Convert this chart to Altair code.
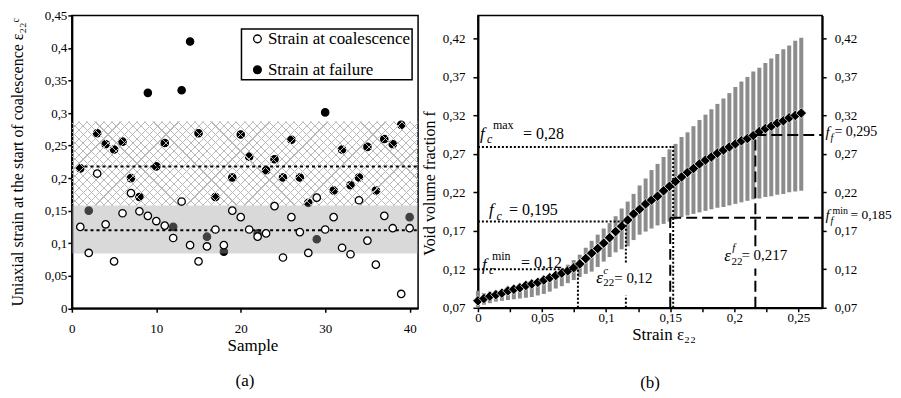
import altair as alt
import pandas as pd

FONT = "Liberation Serif"

# ---------------- panel (a) data ----------------
sample = list(range(1, 41))
strain_coalescence = [0.125, 0.085, 0.207, 0.129, 0.072, 0.146, 0.177, 0.149, 0.142, 0.134,
                      0.127, 0.108, 0.164, 0.097, 0.072, 0.095, 0.121, 0.097, 0.150, 0.140,
                      0.121, 0.110, 0.115, 0.157, 0.078, 0.140, 0.117, 0.085, 0.170, 0.121,
                      0.140, 0.093, 0.083, 0.166, 0.104, 0.067, 0.142, 0.123, 0.022, 0.123]
strain_failure = [0.215, 0.150, 0.269, 0.252, 0.244, 0.256, 0.200, 0.171, 0.331, 0.218,
                  0.254, 0.125, 0.335, 0.410, 0.269, 0.110, 0.171, 0.087, 0.201, 0.267,
                  0.233, 0.115, 0.212, 0.229, 0.201, 0.259, 0.201, 0.162, 0.106, 0.301,
                  0.181, 0.244, 0.189, 0.201, 0.248, 0.181, 0.260, 0.252, 0.282, 0.140]
series_names = ["Strain at coalescence", "Strain at failure"]
hatch_band = [0.158, 0.287]
dotted_band = [0.084, 0.158]
mean_levels = [0.218, 0.120]
mean_x_start = [1.5, 1.5]
mean_x_end = [41, 41]
a_x_ticks = [0, 10, 20, 30, 40]
a_y_ticks = [0, 0.05, 0.1, 0.15, 0.2, 0.25, 0.3, 0.35, 0.4, 0.45]

# ---------------- panel (b) data ----------------
strain_b = [0.0000, 0.0047, 0.0093, 0.0140, 0.0187, 0.0234, 0.0280, 0.0327, 0.0374, 0.0420,
            0.0467, 0.0514, 0.0560, 0.0607, 0.0654, 0.0701, 0.0747, 0.0794, 0.0841, 0.0887,
            0.0934, 0.0981, 0.1027, 0.1074, 0.1121, 0.1168, 0.1214, 0.1261, 0.1308, 0.1354,
            0.1401, 0.1448, 0.1494, 0.1541, 0.1588, 0.1635, 0.1681, 0.1728, 0.1775, 0.1821,
            0.1868, 0.1915, 0.1961, 0.2008, 0.2055, 0.2102, 0.2148, 0.2195, 0.2242, 0.2288,
            0.2335, 0.2382, 0.2428, 0.2475, 0.2522]
f_mean = [0.079, 0.082, 0.085, 0.087, 0.089, 0.092, 0.094, 0.096, 0.099, 0.101,
          0.103, 0.106, 0.109, 0.112, 0.115, 0.118, 0.122, 0.127, 0.134, 0.141,
          0.147, 0.154, 0.161, 0.169, 0.176, 0.184, 0.192, 0.198, 0.205, 0.210,
          0.215, 0.222, 0.228, 0.234, 0.240, 0.246, 0.251, 0.257, 0.262, 0.266,
          0.271, 0.275, 0.279, 0.283, 0.287, 0.290, 0.294, 0.299, 0.303, 0.306,
          0.310, 0.313, 0.317, 0.320, 0.323]
f_high = [0.092, 0.089, 0.091, 0.092, 0.094, 0.096, 0.098, 0.100, 0.102, 0.104,
          0.107, 0.110, 0.113, 0.117, 0.121, 0.126, 0.132, 0.139, 0.148, 0.157,
          0.165, 0.173, 0.180, 0.189, 0.199, 0.208, 0.218, 0.229, 0.238, 0.249,
          0.257, 0.266, 0.276, 0.283, 0.292, 0.298, 0.306, 0.314, 0.321, 0.328,
          0.335, 0.342, 0.349, 0.357, 0.364, 0.370, 0.377, 0.382, 0.388, 0.394,
          0.400, 0.406, 0.411, 0.417, 0.421]
f_low = [0.070, 0.074, 0.076, 0.078, 0.079, 0.080, 0.081, 0.082, 0.083, 0.084,
         0.086, 0.088, 0.091, 0.095, 0.098, 0.102, 0.106, 0.110, 0.114, 0.117,
         0.123, 0.130, 0.136, 0.142, 0.146, 0.150, 0.158, 0.165, 0.169, 0.173,
         0.177, 0.179, 0.182, 0.185, 0.188, 0.190, 0.192, 0.194, 0.196, 0.198,
         0.200, 0.201, 0.203, 0.205, 0.207, 0.209, 0.211, 0.212, 0.214, 0.215,
         0.217, 0.218, 0.220, 0.221, 0.222]
b_x_ticks = [0, 0.025, 0.05, 0.075, 0.1, 0.125, 0.15, 0.175, 0.2, 0.225, 0.25]
b_y_ticks = [0.07, 0.12, 0.17, 0.22, 0.27, 0.32, 0.37, 0.42]

# guide segments (panel b)
dot_x1 = [0, 0, 0, 0.078, 0.1154, 0.1154, 0.1523]
dot_x2 = [0.1523, 0.1154, 0.078, 0.078, 0.1154, 0.1154, 0.1523]
dot_y1 = [0.279, 0.182, 0.120, 0.070, 0.070, 0.1287, 0.070]
dot_y2 = [0.279, 0.182, 0.120, 0.120, 0.086, 0.182, 0.2806]
dash_x1 = [0.150, 0.150, 0.2164, 0.2164, 0.2164]
dash_x2 = [0.150, 0.2685, 0.2164, 0.2164, 0.2685]
dash_y1 = [0.070, 0.187, 0.070, 0.150, 0.2947]
dash_y2 = [0.187, 0.187, 0.121, 0.2947, 0.2947]

# annotation pieces (panel b)
ann_text = ["f", "c", "max", "= 0,28",
            "f", "c", "= 0,195",
            "f", "c", "min", "= 0,12",
            "ε", "22", "c", "= 0,12",
            "ε", "22", "f", "= 0,217",
            "f", "f", "= 0,295",
            "f", "f", "min", "= 0,185"]
ann_x = [0.0016, 0.0070, 0.0117, 0.0352,
         0.0086, 0.0145, 0.0242,
         0.0031, 0.0086, 0.0109, 0.0336,
         0.0922, 0.0977, 0.0977, 0.1063,
         0.1922, 0.1977, 0.1984, 0.2055,
         0.2711, 0.2750, 0.2781,
         0.2711, 0.2750, 0.2766, 0.2906]
ann_y = [0.2892, 0.2841, 0.3019, 0.2892,
         0.1902, 0.1845, 0.1902,
         0.1194, 0.1143, 0.1322, 0.1220,
         0.1028, 0.0977, 0.1143, 0.1028,
         0.1309, 0.1258, 0.1437, 0.1322,
         0.2917, 0.2866, 0.2930,
         0.1845, 0.1794, 0.1922, 0.1858]
ann_size = [17, 12, 12, 16, 17, 12, 16, 17, 12, 12, 16,
            17, 11, 11, 15, 17, 11, 11, 15,
            15, 10, 14, 15, 10, 10, 13.5]
ann_italic = [1, 1, 0, 0, 1, 1, 0, 1, 1, 0, 0,
              1, 0, 1, 0, 1, 0, 1, 0,
              1, 1, 0, 1, 1, 0, 0]

A_W, A_H = 347, 293.5
B_W, B_H = 345, 293

# ================= panel (a) =================
pts = pd.DataFrame({
    "sample": sample + sample,
    "strain": strain_coalescence + strain_failure,
    "series": [series_names[0]] * len(sample) + [series_names[1]] * len(sample),
})
xa_scale = alt.Scale(domain=[0, 41], nice=False, zero=False)
ya_scale = alt.Scale(domain=[0, 0.45], nice=False)
xa_axis = alt.Axis(values=a_x_ticks, title="Sample", tickSize=4, labelPadding=10,
                   titlePadding=2, titleX=181, titleFontSize=17, format="d")
ya_axis = alt.Axis(values=a_y_ticks,
                   labelExpr="replace(format(datum.value, '.2~f'), '.', ',')",
                   title="Uniaxial strain at the start of coalescence  ε₂₂ᶜ",
                   tickSize=4, labelPadding=1, titlePadding=19)
fill_scale = alt.Scale(domain=series_names, range=["white", "black"])
legend = alt.Legend(title=None, orient="none", legendX=170, legendY=13.5,
                    direction="vertical", symbolType="circle", symbolSize=60,
                    symbolStrokeColor="black", symbolStrokeWidth=1.3,
                    labelFont=FONT, labelFontSize=17, labelColor="black",
                    labelOffset=2, rowPadding=13, padding=1.5, symbolOffset=6,
                    strokeColor="black", fillColor="white")

xa = alt.X("sample:Q", scale=xa_scale, axis=xa_axis)
ya = alt.Y("strain:Q", scale=ya_scale, axis=ya_axis)

filled = alt.Chart(pts).transform_filter(
    alt.datum.series == series_names[1]
).mark_circle(size=55, stroke="black", strokeWidth=1.2, opacity=1).encode(
    x=xa, y=ya, fill=alt.Fill("series:N", scale=fill_scale, legend=legend))

opened = alt.Chart(pts).transform_filter(
    alt.datum.series == series_names[0]
).mark_circle(size=55, stroke="black", strokeWidth=1.3, opacity=1).encode(
    x=xa, y=ya, fill=alt.Fill("series:N", scale=fill_scale, legend=legend))

lower_df = pd.DataFrame({"lo": [dotted_band[0]], "hi": [dotted_band[1]]})
lower_band = alt.Chart(lower_df).mark_rect(fill="#a0a0a0", opacity=0.4).encode(
    x=alt.value(0), x2=alt.value("width"),
    y=alt.Y("lo:Q", scale=ya_scale, axis=ya_axis), y2="hi:Q")

# cross-hatch made of two striped gradients
band_px_h = (hatch_band[1] - hatch_band[0]) / 0.45 * A_H
r = band_px_h / A_W
k = 1.25
denom = A_W * k * (1 + r * r)
period = 8.3 / denom
line_w = 1.1 / denom
stops = []
t = 0.0
while t + period <= 1.0:
    stops += [{"offset": round(t, 5), "color": "rgba(255,255,255,0)"},
              {"offset": round(t + period - line_w, 5), "color": "rgba(255,255,255,0)"},
              {"offset": round(t + period - line_w, 5), "color": "rgba(185,185,185,1)"},
              {"offset": round(t + period, 5), "color": "rgba(185,185,185,1)"}]
    t += period
grad1 = {"gradient": "linear", "x1": 0, "y1": 0, "x2": k, "y2": k * r, "stops": stops}
grad2 = {"gradient": "linear", "x1": 0, "y1": 1, "x2": k, "y2": 1 - k * r, "stops": stops}
hatch_df = pd.DataFrame({"lo": [hatch_band[0]], "hi": [hatch_band[1]]})
hatch1 = alt.Chart(hatch_df).mark_rect(fill=grad1).encode(
    x=alt.value(0), x2=alt.value("width"),
    y=alt.Y("lo:Q", scale=ya_scale, axis=ya_axis), y2="hi:Q")
hatch2 = alt.Chart(hatch_df).mark_rect(fill=grad2).encode(
    x=alt.value(0), x2=alt.value("width"),
    y=alt.Y("lo:Q", scale=ya_scale, axis=ya_axis), y2="hi:Q")

mean_df = pd.DataFrame({"level": mean_levels, "xs": mean_x_start, "xe": mean_x_end})
means = alt.Chart(mean_df).mark_rule(color="black", strokeWidth=2, strokeDash=[3, 3]).encode(
    x=alt.X("xs:Q", scale=xa_scale, axis=xa_axis), x2="xe:Q",
    y=alt.Y("level:Q", scale=ya_scale, axis=ya_axis))

panel_a = alt.layer(filled, lower_band, hatch1, hatch2, means, opened).properties(
    width=A_W, height=A_H,
    title=alt.TitleParams("(a)", orient="bottom", offset=20, fontSize=17))

# ================= panel (b) =================
bdf = pd.DataFrame({"strain": strain_b, "f": f_mean, "lo": f_low, "hi": f_high})
xb_scale = alt.Scale(domain=[0, 0.2685], nice=False, zero=False)
yb_scale = alt.Scale(domain=[0.07, 0.45], nice=False, zero=False)
xb_axis = alt.Axis(values=b_x_ticks,
                   labelExpr="round(datum.value*40) % 2 == 0 ? replace(format(datum.value, '.2~f'), '.', ',') : ''",
                   title="Strain ε₂₂", tickSize=4, labelPadding=0, titlePadding=2,
                   titleX=186, titleFontSize=17)
yb_left = alt.Axis(values=b_y_ticks,
                   labelExpr="replace(format(datum.value, '.2f'), '.', ',')",
                   title="Void volume fraction f", tickSize=5, labelPadding=8,
                   titlePadding=5, titleY=168)
yb_right = alt.Axis(orient="right", values=b_y_ticks,
                    labelExpr="replace(format(datum.value, '.2f'), '.', ',')",
                    title=None, tickSize=4, labelPadding=8)

xb = alt.X("strain:Q", scale=xb_scale, axis=xb_axis)

bars = alt.Chart(bdf).mark_rule(color="#8c8c8c", strokeWidth=4).encode(
    x=xb, y=alt.Y("lo:Q", scale=yb_scale, axis=yb_left), y2="hi:Q")

curve = alt.Chart(bdf).mark_point(shape="diamond", filled=True, fill="black",
                                  stroke="white", strokeWidth=0.7, size=110,
                                  opacity=1).encode(
    x=xb, y=alt.Y("f:Q", scale=yb_scale, axis=yb_right))

dot_df = pd.DataFrame({"x1": dot_x1, "x2": dot_x2, "y1": dot_y1, "y2": dot_y2})
dots = alt.Chart(dot_df).mark_rule(color="black", strokeWidth=2, strokeDash=[2, 2]).encode(
    x=alt.X("x1:Q", scale=xb_scale, axis=xb_axis), x2="x2:Q",
    y=alt.Y("y1:Q", scale=yb_scale, axis=None), y2="y2:Q")

dash_df = pd.DataFrame({"x1": dash_x1, "x2": dash_x2, "y1": dash_y1, "y2": dash_y2})
dashes = alt.Chart(dash_df).mark_rule(color="black", strokeWidth=2, strokeDash=[11, 5]).encode(
    x=alt.X("x1:Q", scale=xb_scale, axis=xb_axis), x2="x2:Q",
    y=alt.Y("y1:Q", scale=yb_scale, axis=None), y2="y2:Q")

ann_df = pd.DataFrame({"x": ann_x, "y": ann_y, "text": ann_text,
                       "size": ann_size, "italic": ann_italic})
ann_italic_layer = alt.Chart(ann_df).transform_filter(alt.datum.italic == 1).mark_text(
    align="left", baseline="alphabetic", font=FONT, fontStyle="italic", color="black").encode(
    x=alt.X("x:Q", scale=xb_scale, axis=xb_axis),
    y=alt.Y("y:Q", scale=yb_scale, axis=None),
    text="text:N", size=alt.Size("size:Q", scale=None))
ann_normal_layer = alt.Chart(ann_df).transform_filter(alt.datum.italic == 0).mark_text(
    align="left", baseline="alphabetic", font=FONT, color="black").encode(
    x=alt.X("x:Q", scale=xb_scale, axis=xb_axis),
    y=alt.Y("y:Q", scale=yb_scale, axis=None),
    text="text:N", size=alt.Size("size:Q", scale=None))

panel_b = alt.layer(bars, curve, dots, dashes, ann_italic_layer, ann_normal_layer).resolve_axis(
    y="independent").properties(
    width=B_W, height=B_H,
    title=alt.TitleParams("(b)", orient="bottom", offset=32, fontSize=17))

chart = alt.hconcat(panel_a, panel_b, spacing=0).properties(
    padding={"left": 0, "top": 0, "right": 0, "bottom": 0}
).configure_view(
    stroke="black", strokeWidth=1.5
).configure_axis(
    domainColor="black", domainWidth=2, tickColor="black", tickWidth=1.5,
    labelColor="black", labelFont=FONT, labelFontSize=13, labelFlush=False,
    labelOverlap=False, titleFont=FONT, titleFontSize=16, titleFontWeight="normal",
    titleColor="black", grid=False
).configure_title(
    font=FONT, fontSize=17, fontWeight="normal", color="black"
).configure_legend(
    strokeWidth=1.5, labelFont=FONT, labelFontSize=17, labelColor="black"
).configure_text(
    font=FONT
)

chart.save("out.html", embed_options={"renderer": "svg", "actions": False})
